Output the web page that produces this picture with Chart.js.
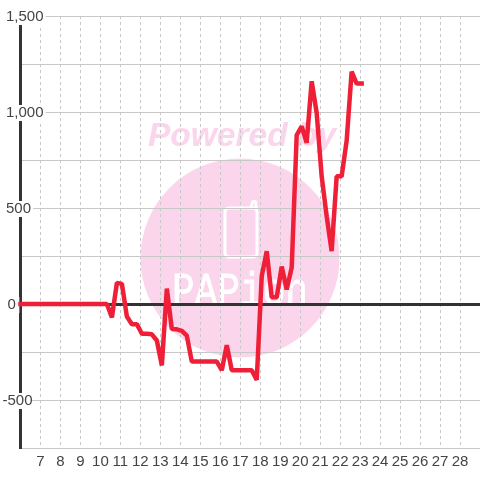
<!DOCTYPE html>
<html>
<head>
<meta charset="utf-8">
<style>
  html, body { margin: 0; padding: 0; background: #fff; }
  #wrap { width: 480px; height: 480px; }
</style>
<script src="https://cdn.jsdelivr.net/npm/chart.js@4/dist/chart.umd.min.js"></script>
</head>
<body>
<div id="wrap"><canvas id="chart" width="480" height="480"></canvas></div>
<script>
const xTicks = [7, 8, 9, 10, 11, 12, 13, 14, 15, 16, 17, 18, 19, 20, 21, 22, 23, 24, 25, 26, 27, 28];
const yTicks = [-750, -500, -250, 0, 250, 500, 750, 1000, 1250, 1500];
const yLabelled = [-500, 0, 500, 1000, 1500];

const days = [
  6.0, 6.325, 6.575, 6.825, 7.075, 7.325, 7.575, 7.825, 8.075, 8.325, 8.575, 8.825,
  9.075, 9.325, 9.575, 9.825, 10.075, 10.325, 10.575, 10.825, 11.075, 11.325, 11.575, 11.825,
  12.075, 12.325, 12.575, 12.825, 13.075, 13.325, 13.575, 13.825, 14.075, 14.325, 14.575, 14.825,
  15.075, 15.325, 15.575, 15.825, 16.075, 16.325, 16.575, 16.825, 17.075, 17.325, 17.575, 17.825,
  18.075, 18.325, 18.575, 18.825, 19.075, 19.325, 19.575, 19.825, 20.075, 20.325, 20.575, 20.825,
  21.075, 21.325, 21.575, 21.825, 22.075, 22.325, 22.575, 22.825, 23.075
];
const balance = [
  0, 0, 0, 0, 0, 0, 0, 0, 0, 0, 0, 0,
  0, 0, 0, 0, 0, 0, -70, 110, 105, -65, -105, -105,
  -155, -155, -158, -190, -320, 80, -130, -132, -140, -165, -300, -300,
  -300, -300, -300, -300, -345, -215, -345, -345, -345, -345, -345, -395,
  145, 275, 35, 35, 195, 75, 190, 880, 925, 840, 1160, 995,
  665, 457, 275, 665, 665, 850, 1210, 1148, 1148
];

const FONT = '"Liberation Sans", Arial, sans-serif';

// pink logo sits behind the grid
const watermark = {
  id: "watermark",
  beforeDraw(chart) {
    const c = chart.ctx;
    c.save();
    c.fillStyle = "#fbd5ec";
    c.beginPath();
    c.arc(240, 258, 99.5, 0, Math.PI * 2);
    c.fill();

    c.font = "italic bold 33.5px " + FONT;
    c.textBaseline = "alphabetic";
    c.textAlign = "left";
    c.fillText("Powered by", 148, 146);

    c.fillStyle = "#fff";
    c.strokeStyle = "#fff";
    c.lineWidth = 3;
    c.beginPath();
    c.roundRect(225, 208, 32, 49, 4);
    c.moveTo(251, 208);
    c.arcTo(253, 200, 256, 202, 2);
    c.lineTo(257, 212);
    c.stroke();

    c.lineWidth = 0.8;
    c.font = '46px "Liberation Mono", monospace';
    c.fillText("PAPion", 172, 305, 136);
    c.strokeText("PAPion", 172, 305, 136);
    c.restore();
  },
};

// the reference does not start the "0" and "-500" labels at the same x as the others
const labelNudge = {
  id: "labelNudge",
  beforeDraw(chart) {
    chart.scales.y.getLabelItems().forEach((item) => {
      const dx = item.label === "-500" ? -3.5 : item.label === "0" ? 1.5 : 0;
      item.options.translation[0] += dx;
      if (item.options.backdrop) item.options.backdrop.left += dx;
    });
  },
};

new Chart(document.getElementById("chart"), {
  type: "line",
  data: {
    datasets: [
      {
        data: days.map((d, i) => ({ x: d, y: balance[i] })),
        borderColor: "#ef1f38",
        borderWidth: 4.5,
        borderJoinStyle: "bevel",
        borderCapStyle: "square",
        pointRadius: 0,
        tension: 0,
        fill: false,
        clip: false,
      },
    ],
  },
  options: {
    responsive: false,
    animation: false,
    layout: { padding: { left: 20.5, right: 0, top: 16, bottom: 0 } },
    plugins: { legend: { display: false }, tooltip: { enabled: false } },
    scales: {
      x: {
        type: "linear",
        min: 6,
        max: 29,
        afterBuildTicks: (s) => { s.ticks = xTicks.map((v) => ({ value: v })); },
        afterFit: (s) => { s.height = 32; },
        grid: { color: "#c8c8c8", lineWidth: 1, drawTicks: false },
        border: { display: false, dash: [3, 3] },
        ticks: {
          autoSkip: false,
          maxRotation: 0,
          padding: 5,
          color: "#444",
          font: { family: FONT, size: 15 },
          callback: (v) => String(v),
        },
      },
      y: {
        min: -750,
        max: 1500,
        afterBuildTicks: (s) => { s.ticks = yTicks.map((v) => ({ value: v })); },
        afterFit: (s) => { s.width = 0; },
        grid: {
          drawTicks: false,
          color: (ctx) => (ctx.tick && ctx.tick.value === 0 ? "#333" : "#c8c8c8"),
          lineWidth: (ctx) => (ctx.tick && ctx.tick.value === 0 ? 3 : 1),
        },
        border: { display: true, color: "#333", width: 3 },
        ticks: {
          mirror: true,
          padding: -14.5,
          labelOffset: 1,
          autoSkip: false,
          color: "#444",
          font: { family: FONT, size: 15, lineHeight: 1.07 },
          callback: (v) => (yLabelled.includes(v) ? v.toLocaleString("en-US") : ""),
          showLabelBackdrop: (ctx) => yLabelled.includes(ctx.tick.value),
          backdropColor: "#fff",
          backdropPadding: { top: 0, bottom: 0, left: 6, right: 2 },
        },
      },
    },
  },
  plugins: [watermark, labelNudge],
});
</script>
</body>
</html>
